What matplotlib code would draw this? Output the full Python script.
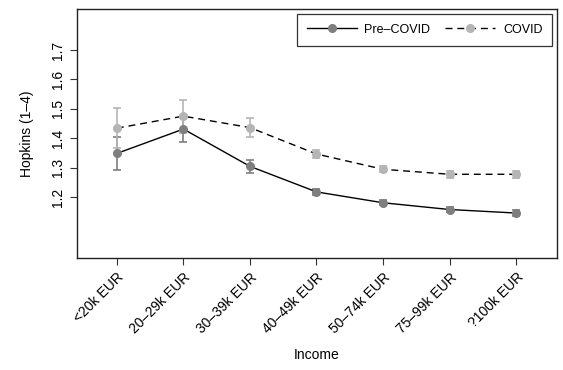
import numpy as np
import matplotlib.pyplot as plt

plt.rcParams['font.family'] = ['Liberation Sans', 'DejaVu Sans']

income = ['<20k EUR', '20–29k EUR', '30–39k EUR', '40–49k EUR',
          '50–74k EUR', '75–99k EUR', '?100k EUR']
pre_covid = [1.348, 1.431, 1.304, 1.217, 1.180, 1.157, 1.145]
pre_err = [0.056, 0.044, 0.023, 0.011, 0.008, 0.009, 0.010]
covid = [1.434, 1.475, 1.436, 1.346, 1.294, 1.277, 1.277]
covid_err = [0.068, 0.056, 0.031, 0.015, 0.010, 0.012, 0.012]

x = np.arange(1, len(income) + 1)

fig = plt.figure(figsize=(5.63, 3.70), dpi=100)
ax = fig.add_axes([0.136, 0.302, 0.853, 0.673])

ax.errorbar(x, pre_covid, yerr=pre_err, fmt='none', ecolor='#7f7f7f',
            elinewidth=1.2, capsize=2.6, capthick=1.2, zorder=2)
ax.errorbar(x, covid, yerr=covid_err, fmt='none', ecolor='#b5b5b5',
            elinewidth=1.2, capsize=2.6, capthick=1.2, zorder=2)
ax.plot(x, pre_covid, color='black', lw=1, marker='o', ms=5.5,
        mfc='#7f7f7f', mec='#7f7f7f', label='Pre–COVID', zorder=3)
ax.plot(x, covid, color='black', lw=1, ls=(0, (5, 3.5)), marker='o', ms=5.5,
        mfc='#b5b5b5', mec='#b5b5b5', label='COVID', zorder=3)

ax.set_xlim(0.394, 7.612)
ax.set_ylim(0.991, 1.839)
ax.set_xticks(x)
ax.set_xticklabels(income, rotation=45, ha='right', rotation_mode='anchor',
                   fontsize=10)
ax.set_yticks([1.2, 1.3, 1.4, 1.5, 1.6, 1.7])
ax.set_yticklabels(['1.2', '1.3', '1.4', '1.5', '1.6', '1.7'],
                   rotation=90, va='center', fontsize=10)
ax.tick_params(length=5, width=0.8, color='#333333')
for s in ax.spines.values():
    s.set_linewidth(1)
    s.set_color('#222222')

ax.set_xlabel('Income', fontsize=10)
ax.xaxis.set_label_coords(0.5, -0.36)
ax.set_ylabel('Hopkins (1–4)', fontsize=10, labelpad=12)

leg = ax.legend(loc='upper right', ncol=2, fontsize=9, frameon=True,
                fancybox=False, edgecolor='black', handlelength=4,
                handletextpad=0.6, columnspacing=1.2, borderpad=0.8,
                borderaxespad=0.35)
leg.get_frame().set_linewidth(0.9)

fig.savefig('out.png', dpi=100)
